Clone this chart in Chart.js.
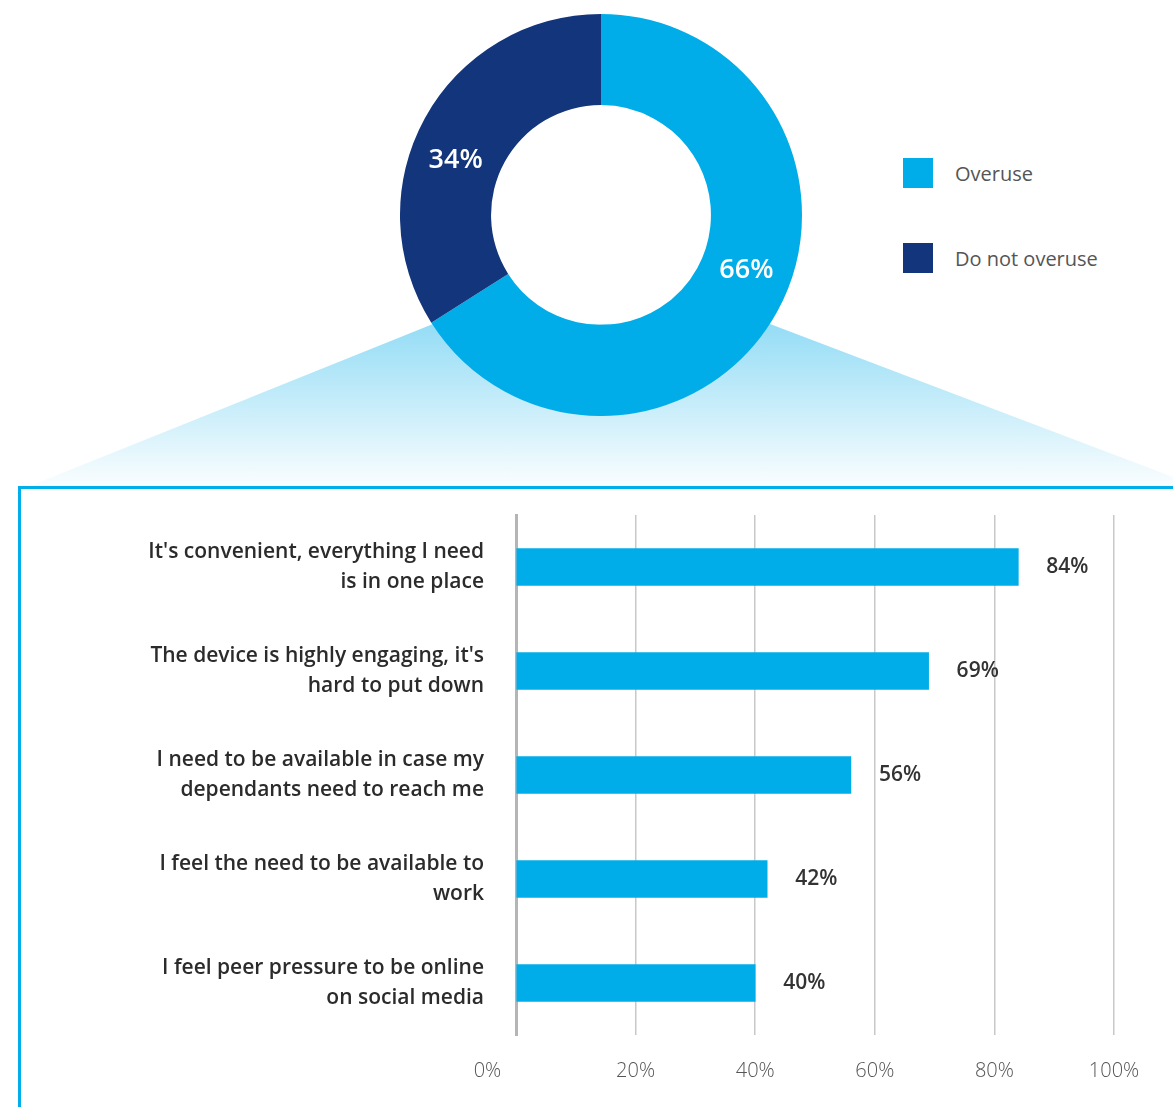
<!DOCTYPE html>
<html>
<head>
<meta charset="utf-8">
<title>Device overuse</title>
<script src="https://cdn.jsdelivr.net/npm/chart.js@4.4.0/dist/chart.umd.min.js"></script>
<style>
  html, body { margin: 0; padding: 0; background: #fff; overflow: hidden; }
  body { width: 1173px; height: 1107px; position: relative; font-family: "Open Sans", sans-serif; }
  .fan {
    position: absolute; left: 0; top: 0; width: 1173px; height: 490px;
    background: linear-gradient(to bottom, rgba(0,173,232,0) 0px, rgba(0,173,232,0) 320px, rgba(0,173,232,0.42) 324px, rgba(0,173,232,0.02) 486px);
    clip-path: polygon(433px 324px, 770px 324px, 1173px 477px, 1173px 490px, 20px 490px);
  }
  #pie { position: absolute; left: 400px; top: 14px; }
  .legend { position: absolute; left: 903px; top: 158px; }
  .legend .item { display: flex; align-items: center; height: 30px; margin-bottom: 55px; }
  .legend .swatch { width: 30px; height: 30px; margin-right: 22px; }
  .legend .text { font-size: 20px; color: #555; }
  .panel {
    position: absolute; left: 18px; top: 486px; width: 1170px; height: 700px;
    border: 3px solid #00aeea; box-sizing: border-box; background: #fff;
  }
  #bars { position: absolute; left: 20px; top: 488px; }
</style>
</head>
<body>
<div class="fan"></div>
<canvas id="pie" width="402" height="402"></canvas>
<div class="legend" id="legend"></div>
<div class="panel"></div>
<canvas id="bars" width="1153" height="619"></canvas>

<script>
// share of people who overuse their device
const shareLabels = ['Overuse', 'Do not overuse'];
const shareValues = [66, 34];
const shareColors = ['#00ade8', '#12357b'];

// reasons given by those who overuse
const reasons = [
  ["It's convenient, everything I need", 'is in one place'],
  ["The device is highly engaging, it's", 'hard to put down'],
  ['I need to be available in case my', 'dependants need to reach me'],
  ['I feel the need to be available to', 'work'],
  ['I feel peer pressure to be online', 'on social media']
];
const reasonValues = [84, 69, 56, 42, 40];
const xMax = 100;
const xStep = 20;

// legend
const legendEl = document.getElementById('legend');
shareLabels.forEach((label, i) => {
  const item = document.createElement('div');
  item.className = 'item';
  item.innerHTML = '<div class="swatch" style="background:' + shareColors[i] + '"></div><div class="text">' + label + '</div>';
  legendEl.appendChild(item);
});

// percentage text inside each ring segment
const ringLabels = {
  id: 'ringLabels',
  afterDatasetsDraw(chart) {
    const ctx = chart.ctx;
    const meta = chart.getDatasetMeta(0);
    ctx.save();
    ctx.font = '600 27px "Open Sans"';
    ctx.fillStyle = '#fff';
    ctx.textAlign = 'center';
    ctx.textBaseline = 'middle';
    meta.data.forEach((arc, i) => {
      const p = arc.getProps(['x', 'y', 'startAngle', 'endAngle', 'innerRadius', 'outerRadius'], true);
      const mid = (p.startAngle + p.endAngle) / 2 - 0.14;
      const r = (p.innerRadius + p.outerRadius) / 2;
      ctx.fillText(shareValues[i] + '%', p.x + r * Math.cos(mid), p.y + r * Math.sin(mid));
    });
    ctx.restore();
  }
};

new Chart(document.getElementById('pie'), {
  type: 'doughnut',
  data: {
    labels: shareLabels,
    datasets: [{
      data: shareValues,
      backgroundColor: shareColors,
      borderWidth: 0
    }]
  },
  options: {
    responsive: false,
    animation: false,
    cutout: '54.7%',
    plugins: {
      legend: { display: false },
      tooltip: { enabled: false }
    }
  },
  plugins: [ringLabels]
});

// value at the end of each bar
const barValues = {
  id: 'barValues',
  afterDatasetsDraw(chart) {
    const ctx = chart.ctx;
    const meta = chart.getDatasetMeta(0);
    ctx.save();
    ctx.font = '600 21px "Open Sans"';
    ctx.fillStyle = '#333';
    ctx.textAlign = 'left';
    ctx.textBaseline = 'middle';
    meta.data.forEach((bar, i) => {
      ctx.fillText(reasonValues[i] + '%', bar.x + 28, bar.y);
    });
    ctx.restore();
  }
};

new Chart(document.getElementById('bars'), {
  type: 'bar',
  data: {
    labels: reasons,
    datasets: [{
      data: reasonValues,
      backgroundColor: '#00ade8',
      barThickness: 37
    }]
  },
  options: {
    indexAxis: 'y',
    responsive: false,
    animation: false,
    layout: { padding: { top: 27, right: 59, left: 0, bottom: 0 } },
    scales: {
      x: {
        min: 0,
        max: xMax,
        ticks: {
          stepSize: xStep,
          padding: 24,
          color: '#555',
          font: { family: 'Open Sans', size: 20, weight: 300 },
          // the 0% label sits left of the axis line
          callback: v => v === 0 ? '0%' + ' '.repeat(11) : v + '%'
        },
        grid: { color: '#c8c8c8', lineWidth: 1.5, drawTicks: false },
        border: { display: false },
        afterFit(scale) { scale.height = 72; }
      },
      y: {
        ticks: {
          padding: 32,
          color: '#2b2b2b',
          font: { family: 'Open Sans', size: 21, weight: 600, lineHeight: 1.45 }
        },
        grid: { display: false, drawTicks: false },
        border: { display: true, color: '#b5b5b5', width: 3 },
        afterFit(scale) {
          scale.width = 496;
          scale.paddingTop = 0;
          scale.paddingBottom = 0;
        }
      }
    },
    plugins: {
      legend: { display: false },
      tooltip: { enabled: false }
    }
  },
  plugins: [barValues]
});
</script>
</body>
</html>
